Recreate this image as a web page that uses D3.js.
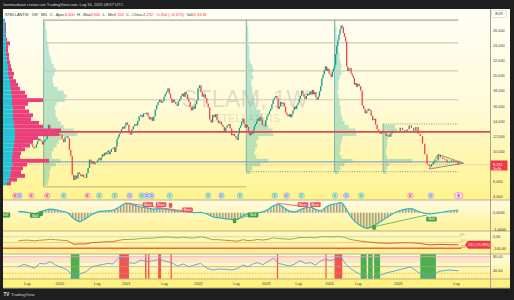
<!DOCTYPE html>
<html>
<head>
<meta charset="utf-8">
<script src="https://cdn.jsdelivr.net/npm/d3@7"></script>
<style>
  body { margin: 0; background: #1e1e1e; }
  svg { display: block; font-family: "Liberation Sans", Arial, sans-serif; }
</style>
</head>
<body>
<svg width="514" height="300"></svg>
<script>
// ---------- data ----------
const tickDates = ["2019-07-01","2020-01-06","2020-07-06","2021-01-04","2021-07-05","2022-01-03","2022-07-04","2023-01-02","2023-07-03","2024-01-01","2024-07-01","2025-01-06","2025-07-07"];
const tickLabels = ["Lug","2020","Lug","2021","Lug","2022","Lug","2023","Lug","2024","Lug","2025","Lug"];
const priceTicks = [4,6,8,10,12,14,16,18,20,22,24,26];

// weekly closes (EUR), first bar week of 2019-05-06
const firstWeek = "2019-05-06";
const firstOpen = 11.4;
const closes2019 = [11.0,10.6,10.4,11.3, 11.0,11.2,11.5,11.6, 11.8,11.5,11.3,11.6,10.9, 10.6,10.4,10.5,10.9, 11.3,11.7,11.5,11.3,10.9, 11.2,11.5,11.6,12.9, 13.5,13.0,12.8,12.7, 12.5,12.3,12.6,12.5,12.3];
const closes2020 = [12.1,12.2,11.6,11.2, 11.9,12.0,11.7,10.2, 9.4,6.9,6.2,6.8,6.4, 7.2,7.0,6.7,6.9, 6.6,6.5,7.1,7.8, 8.9,8.4,8.7,8.3,8.5, 8.6,8.9,9.1,8.8, 9.2,9.6,9.4,9.8,9.6, 9.9,10.1,9.6,9.9, 10.3,10.4,10.5,9.9, 10.6,11.6,11.9,12.3,12.4, 12.9,13.2,13.0,13.4];
const closes2021 = [13.8,13.5,12.4,12.2, 12.9,13.3,13.6,13.4, 14.0,14.6,14.8,14.5,15.0, 14.9,15.1,14.6,14.2, 14.5,14.0,14.6,15.5,16.1, 16.5,16.8,16.4,16.6, 17.2,17.6,17.9,18.3, 17.6,17.0,16.4,16.8,16.5, 16.2,16.0,16.6,16.9, 17.3,17.6,17.2,17.8, 17.5,16.9,16.5,15.8,15.4, 15.9,15.6,16.2,16.7];
const closes2022 = [18.3,18.7,17.8,17.2,17.5, 17.0,16.3,15.8,14.2, 13.8,14.8,14.5,14.9, 14.1,13.7,13.9,13.5, 13.2,12.6,13.1,13.4,13.6, 13.0,12.1,12.3,12.0, 11.7,11.5,12.3,13.1, 13.4,13.9,14.3,13.6,13.1, 13.5,13.2,12.4,12.1, 12.6,12.3,12.8,13.3,13.6, 14.0,14.3,14.0,14.5, 14.2,13.5,13.4,13.3];
const closes2023 = [14.1,14.6,14.9,15.3,15.6, 16.2,16.8,17.1,17.3, 17.0,15.6,15.9,16.5, 16.2,16.4,15.9,15.1, 14.8,14.6,14.9,14.5,14.9, 15.4,15.9,15.6,16.1, 16.4,16.9,17.3,18.0,17.6, 17.2,16.9,17.3,17.6, 17.4,17.9,17.5,18.1, 17.5,17.8,17.1,16.8,17.2, 17.9,18.6,19.6,20.1, 20.7,21.2,20.6,20.9];
const closes2024 = [20.3,20.1,19.8,20.5,20.9, 21.4,22.8,23.9,24.6, 25.4,26.1,26.6,26.4, 25.6,25.1,24.5,21.2,20.6, 20.9,21.0,20.3,20.0, 19.7,18.8,19.0,18.5, 18.9,18.6,18.0,16.0,15.6, 15.0,15.3,15.6,15.4, 14.7,14.1,14.3,13.5,12.9, 12.6,12.3,12.7,12.5, 12.4,12.0,12.1,11.9, 12.3,12.7,12.5,12.6,12.5];
const closes2025 = [12.7,13.1,12.8,12.6, 12.9,13.4,13.1,12.7, 13.2,12.3,12.0,11.0,9.6, 8.3,8.0,8.3,8.6, 8.8,9.5,9.2,9.0, 8.9,8.5,8.6,8.8,8.6, 8.586,8.232];

// volume profiles: bins of 0.5 EUR, centre prices 27.25 down to 5.75
const profileTop = 27.25, profileStep = 0.5;
const leftUpVol   = [2,2,2,2,2,3,3,3,3,3, 4,4,5,5,5,6,7,7,8,8, 9,9,9,10,10,10,10,11,11,12, 12,12,11,11,10,10,9,9,10,8, 8,7,6,4];
const leftDownVol = [0,1,1,1,1,1,4,2,2,3, 2,3,3,4,6,4,6,8,9,14, 15,31,16,12,16,20,18,25,29,46, 44,23,19,16,12,8,8,37,14,12, 10,15,8,4];
const profile1Vol = [1,2,2,3,3,3,4,5,5,6, 7,8,10,12,11,9,9,10,14,20, 23,21,13,11,12,12,14,17,20,30, 34,18,15,13,10,8,8,17,12,7, 6,6,5,4];
const profile2Vol = [1,1,2,2,2,2,2,3,3,3, 3,4,6,7,6,7,5,5,6,6, 7,8,9,10,14,16,18,20,22,26, 27,12,10,11,9,8,10,22,14,6, 4,0,0,0];
const profile3Vol = [1,1,2,2,2,3,3,4,4,5, 5,6,7,6,7,5,4,4,4,3, 4,5,5,6,6,7,8,10,14,21, 22,8,7,6,6,5,7,18,10,6, 4,0,0,0];
const profile4Vol = [0,0,0,0,0,0,0,0,0,0, 0,0,0,0,0,0,0,0,0,0, 0,0,0,0,0,0,0,0,12,14, 9,5,4,4,3,3,4,29,6,4, 3,0,0,0];
const profileStarts = ["2019-10-07","2022-09-05","2024-02-05","2024-10-28"];

// drawn levels
const grayLevels = [24.3, 20.6, 16.8];
const redLevel = 12.57, blueLevel = 8.6, lastClose = 8.232;
const boxTop = 27.3, box1Low = 5.3, boxLow = 7.3, box4Top = 13.6;
const triangle = [["2025-05-12",9.6],["2025-07-31",8.42],["2025-04-14",7.66]];

// monthly indicator readings, 2019-05 .. 2025-07
const firstMonth = "2019-05-15";
const macd = [0.08,0.05,0.0,-0.05,0.05,0.15,0.22,0.18,
  0.1,0.0,-0.35,-0.55,-0.35,-0.1,0.05,0.1,0.12,0.15,0.3,0.5,
  0.58,0.45,0.35,0.3,0.22,0.25,0.22,0.18,0.1,0.1,0.05,0.0,
  0.02,-0.08,-0.25,-0.32,-0.38,-0.42,-0.4,-0.2,-0.1,-0.05,0.0,0.05,
  0.2,0.42,0.5,0.3,0.1,0.05,0.18,0.3,0.33,0.2,0.12,0.35,
  0.5,0.55,0.62,0.3,-0.2,-0.55,-0.8,-0.95,-0.8,-0.55,-0.3,-0.05,
  0.15,0.25,0.05,-0.08,0.0,0.1,0.17];
const rsi = [50,57,52,45,60,58,65,55,
  48,40,18,28,35,50,54,57,60,58,75,80,
  62,60,70,65,68,72,66,62,52,58,50,55,
  60,45,40,43,42,40,45,55,50,58,62,56,
  65,76,60,56,52,58,68,60,62,55,68,72,
  68,74,81,58,45,35,26,22,20,24,32,36,
  42,49,30,19,36,40,38];
const drawdown = [-35,-30,-30,-36,-30,-28,-22,-26,
  -30,-34,-65,-62,-62,-50,-48,-45,-43,-42,-33,-25,
  -24,-22,-15,-14,-12,-6,-2,-5,-10,-4,-10,-12,
  0,-12,-25,-26,-31,-35,-38,-26,-33,-31,-24,-29,
  -22,-10,-16,-18,-23,-16,-6,-9,-6,-10,0,0,
  -3,0,0,-8,-24,-31,-38,-44,-50,-55,-56,-55,
  -53,-52,-58,-71,-66,-69,-70.38];

const macdMarks = [["2019-02-25",-0.14,"Bull"],["2019-08-19",-0.17,"Bull"],["2019-09-23",-0.05,""],
  ["2021-04-19",0.5,"Bear"],["2021-06-21",0.5,"Bear"],["2021-08-09",0.45,""],["2021-11-08",0.17,"Bear"],
  ["2022-06-27",-0.5,""],["2022-10-17",-0.14,"Bull"],["2023-08-01",0.5,"Bear"],["2023-10-13",0.5,"Bear"],
  ["2024-09-16",-0.9,""],["2025-04-21",-0.39,"Bull"]];
const bearLines = [[["2020-12-28",0.6],["2021-11-19",0.06]], [["2023-03-06",0.58],["2023-08-14",0.37]]];
const bullLines = [[["2022-06-20",-0.45],["2022-10-10",-0.14]], [["2024-08-12",-0.96],["2025-04-07",-0.14]]];

const rsiHot = [["2020-11-23","2021-01-18"],["2021-04-05","2021-04-12"],["2021-04-19","2021-04-26"],["2021-06-07","2021-06-21"],
  ["2021-08-09","2021-08-16"],["2023-03-06","2023-03-13"],["2023-12-11","2023-12-18"],["2024-02-05","2024-03-25"]];
const rsiCold = [["2020-03-02","2020-04-13"],["2024-07-15","2024-08-12"],["2024-08-19","2024-09-09"],["2024-09-16","2024-10-14"],["2025-03-17","2025-05-05"]];

const events = [["2019-04-26","E","neg"],["2019-05-20","D","div"],["2019-07-29","E","neg"],["2019-10-28","E","neg"],
  ["2020-01-27","E","pos"],["2020-05-22","E","neg"],["2020-07-22","E","pos"],["2020-10-26","E","pos"],
  ["2021-01-22","D","div"],["2021-03-20","E","pos"],["2021-04-12","D","div"],["2021-05-06","D","div"],
  ["2021-08-05","E","pos"],["2022-02-21","E","pos"],["2022-04-25","D","div"],["2022-07-28","E","pos"],
  ["2023-02-22","E","pos"],["2023-04-30","D","div"],["2023-07-24","E","pos"],["2024-02-08","E","pos"],
  ["2024-04-20","D","div"],["2024-07-18","E","pos"],["2025-02-14","E","neg"],["2025-04-19","D","div"]];
const nextEvent = "2025-07-14";

// ---------- setup ----------
const parse = d3.timeParse("%Y-%m-%d");
const it = d3.formatLocale({decimal: ",", thousands: ".", grouping: [3], currency: ["", "€"], minus: "-"});
const svg = d3.select("svg");
const defs = svg.append("defs");

const x = d3.scaleTime().domain(tickDates.map(parse))
  .range([26.7, 59.3, 96.7, 126, 164, 198, 236, 265.7, 298, 329, 357.7, 398, 456]);
const y = d3.scaleLinear().domain([3.57, 27.32]).range([200, 20]);
const yMacd = d3.scaleLinear().domain([-1, 0]).range([229, 212.7]);
const yDD = d3.scaleLinear().domain([-100, 0]).range([248.3, 236.7]);
const yRsi = d3.scaleLinear().domain([40, 80]).range([270, 256.7]);
const vol = d3.scaleLinear().domain([0, 100]).range([0, 100]);

const closes = [].concat(closes2019, closes2020, closes2021, closes2022, closes2023, closes2024, closes2025);
const start = parse(firstWeek);
const bars = closes.map((c, i) => ({date: d3.timeWeek.offset(start, i), open: i ? closes[i-1] : firstOpen, close: c}));
const lastDate = bars[bars.length-1].date;
const m0 = parse(firstMonth);
const monthly = arr => arr.map((v, i) => ({date: d3.timeMonth.offset(m0, i), v}));

function vgrad(id, stops) {
  const g = defs.append("linearGradient").attr("id", id).attr("x1",0).attr("y1",0).attr("x2",0).attr("y2",1);
  stops.forEach(s => g.append("stop").attr("offset", s[0]).attr("stop-color", s[1]));
}
vgrad("gMain", [["0%","#fffef6"],["50%","#fffbd9"],["100%","#fff38e"]]);
vgrad("gMacd", [["0%","#fffbe2"],["100%","#fff293"]]);
vgrad("gDD",   [["0%","#fff8c4"],["100%","#fff293"]]);
vgrad("gRsi",  [["0%","#fffbe4"],["100%","#fff28f"]]);
const ddg = defs.append("linearGradient").attr("id","ddLine").attr("gradientUnits","userSpaceOnUse")
  .attr("x1",0).attr("x2",0).attr("y1",yDD(0)).attr("y2",yDD(-75));
[["0","#5cb85c"],["0.2","#7fb24a"],["0.4","#b8823e"],["1","#c0392b"]].forEach(s => ddg.append("stop").attr("offset",s[0]).attr("stop-color",s[1]));
const pat = defs.append("pattern").attr("id","hatch").attr("patternUnits","userSpaceOnUse").attr("width",1.5).attr("height",4);
pat.append("rect").attr("width",0.8).attr("height",4).attr("fill","#9e9677");
function clip(id, x0, y0, x1, y1) {
  defs.append("clipPath").attr("id", id).append("rect").attr("x", x0).attr("y", y0).attr("width", x1-x0).attr("height", y1-y0);
}
clip("cMain", 3, 9, 490, 200); clip("cMacd", 3, 200, 490, 231); clip("cDD", 3, 231, 490, 254); clip("cRsi", 3, 254, 490, 279);

// ---------- backgrounds ----------
svg.append("rect").attr("x",3).attr("y",9).attr("width",507).attr("height",191).attr("fill","url(#gMain)");
svg.append("rect").attr("x",3).attr("y",200).attr("width",507).attr("height",31).attr("fill","url(#gMacd)");
svg.append("rect").attr("x",3).attr("y",231).attr("width",507).attr("height",23).attr("fill","url(#gDD)");
svg.append("rect").attr("x",3).attr("y",254).attr("width",507).attr("height",25).attr("fill","url(#gRsi)");
svg.append("rect").attr("x",3).attr("y",279).attr("width",507).attr("height",9).attr("fill","#fff27c");

// ---------- main pane ----------
const main = svg.append("g").attr("clip-path","url(#cMain)");
const binY = p => y(p + profileStep/2);
const binH = y(0) - y(profileStep);
const bins = leftUpVol.map((_, i) => profileTop - i*profileStep);

// watermark
main.append("text").attr("x",245).attr("y",107).attr("text-anchor","middle").attr("font-size",23.5)
  .attr("fill","rgba(110,110,110,0.22)").text("STLAM, 1W");
main.append("text").attr("x",247).attr("y",122).attr("text-anchor","middle").attr("font-size",11)
  .attr("fill","rgba(110,110,110,0.2)").text("STELLANTIS");

// fixed range profiles
[profile1Vol, profile2Vol, profile3Vol, profile4Vol].forEach((vols, k) => {
  const x0 = x(parse(profileStarts[k]));
  main.append("g").selectAll("rect").data(bins.map((p, i) => ({p, v: vols[i]})).filter(d => d.v > 0)).join("rect")
    .attr("x", x0).attr("y", d => binY(d.p)).attr("width", d => vol(d.v)).attr("height", binH)
    .attr("fill", "#3dbba8").attr("opacity", 0.36);
});
// box outlines
const xEnd = x(lastDate);
main.append("line").attr("x1", x(parse(profileStarts[0]))).attr("x2", xEnd).attr("y1", y(boxTop)).attr("y2", y(boxTop)).attr("stroke","#a9a9a0").attr("stroke-width",1.3);
main.append("line").attr("x1", x(parse(profileStarts[0]))).attr("x2", x(parse(profileStarts[1]))).attr("y1", y(box1Low)).attr("y2", y(box1Low)).attr("stroke","#b5ad86").attr("stroke-width",0.9);
main.append("line").attr("x1", x(parse(profileStarts[1]))).attr("x2", xEnd).attr("y1", y(boxLow)).attr("y2", y(boxLow)).attr("stroke","#8c8c80").attr("stroke-width",0.8).attr("stroke-dasharray","1.2,1.2");
main.append("line").attr("x1", x(parse(profileStarts[3]))).attr("x2", xEnd).attr("y1", y(box4Top)).attr("y2", y(box4Top)).attr("stroke","#8c8c80").attr("stroke-width",0.8).attr("stroke-dasharray","1.2,1.2");
profileStarts.forEach((d, k) => {
  main.append("line").attr("x1", x(parse(d))).attr("x2", x(parse(d)))
    .attr("y1", y(k === 3 ? box4Top : boxTop)).attr("y2", y(k === 0 ? box1Low : boxLow))
    .attr("stroke", "#6aa8a0").attr("stroke-width", 0.8);
});

// horizontal levels
main.selectAll(".lvl").data(grayLevels).join("line").attr("class","lvl")
  .attr("x1", x(parse(profileStarts[0]))).attr("x2", xEnd).attr("y1", d => y(d)).attr("y2", d => y(d))
  .attr("stroke","#cfc9ad").attr("stroke-width",1.2);
main.append("line").attr("x1",3).attr("x2",xEnd+3).attr("y1",y(blueLevel)).attr("y2",y(blueLevel)).attr("stroke","#86a9c4").attr("stroke-width",1.2);
main.append("line").attr("x1",3).attr("x2",490).attr("y1",y(lastClose)).attr("y2",y(lastClose)).attr("stroke","#f23645").attr("stroke-opacity",0.55).attr("stroke-width",0.6).attr("stroke-dasharray","1,1");

// candles
main.append("g").selectAll("rect").data(bars).join("rect")
  .attr("x", d => x(d.date) - 0.65).attr("width", 1.3)
  .attr("y", d => y(Math.max(d.open, d.close)))
  .attr("height", d => Math.max(0.7, Math.abs(y(d.open) - y(d.close))))
  .attr("fill", d => d.close >= d.open ? "#0f9d86" : "#ee4250");

// red level
main.append("line").attr("x1",3).attr("x2",490).attr("y1",y(redLevel)).attr("y2",y(redLevel)).attr("stroke","#e0475a").attr("stroke-width",1.8);

// triangle
main.append("path").attr("d", d3.line().x(d => x(parse(d[0]))).y(d => y(d[1]))(triangle) + "Z")
  .attr("fill","rgba(120,120,100,0.08)").attr("stroke","#555").attr("stroke-width",0.6);

// left visible-range profile
const lp = main.append("g");
lp.selectAll(".up").data(bins.map((p, i) => ({p, v: leftUpVol[i]}))).join("rect").attr("class","up")
  .attr("x",3).attr("y", d => binY(d.p)).attr("width", d => vol(d.v)).attr("height", binH).attr("fill","#22c3d6");
lp.selectAll(".dn").data(bins.map((p, i) => ({p, u: leftUpVol[i], v: leftDownVol[i]}))).join("rect").attr("class","dn")
  .attr("x", d => 3 + vol(d.u)).attr("y", d => binY(d.p)).attr("width", d => vol(d.v)).attr("height", binH).attr("fill","#ea3f7b");

// events
const evColor = {pos: ["#dff5ef","#43b3a0","#26a69a"], neg: ["#fde4ea","#ee6b8b","#e91e63"], div: ["#e3e8ff","#7b8cf0","#5c6bc0"]};
const ev = svg.append("g");
events.forEach(e => {
  const cx = x(parse(e[0])), c = evColor[e[2]];
  ev.append("circle").attr("cx", cx).attr("cy", 195.6).attr("r", 2.7).attr("fill", c[0]).attr("stroke", c[1]).attr("stroke-width", 0.6);
  ev.append("text").attr("x", cx).attr("y", 196.9).attr("text-anchor","middle").attr("font-size",3.6).attr("font-weight","bold").attr("fill", c[2]).text(e[1]);
});
ev.append("rect").attr("x", x(parse(nextEvent)) - 3.5).attr("y", 192.8).attr("width", 8).attr("height", 5.6).attr("rx", 2.2)
  .attr("fill","#fbe3f5").attr("stroke","#d76ad0").attr("stroke-width",0.6);
ev.append("text").attr("x", x(parse(nextEvent)) + 0.5).attr("y", 197).attr("text-anchor","middle").attr("font-size",3.6).attr("font-weight","bold").attr("fill","#c2185b").text("E");

// ---------- MACD pane ----------
const mg = svg.append("g").attr("clip-path","url(#cMacd)");
const md = monthly(macd);
mg.append("path").datum(md).attr("fill","url(#hatch)")
  .attr("d", d3.area().curve(d3.curveMonotoneX).x(d => x(d.date)).y0(yMacd(0)).y1(d => yMacd(d.v)));
mg.append("path").datum(md).attr("fill","none").attr("stroke","#1fb6cf").attr("stroke-width",1.1)
  .attr("d", d3.line().curve(d3.curveMonotoneX).x(d => x(d.date)).y(d => yMacd(d.v)));
const segLine = d3.line().x(d => x(parse(d[0]))).y(d => yMacd(d[1]));
bearLines.forEach(l => mg.append("path").attr("d", segLine(l)).attr("stroke","#f0505a").attr("stroke-width",0.8).attr("fill","none"));
bullLines.forEach(l => mg.append("path").attr("d", segLine(l)).attr("stroke","#4caf50").attr("stroke-width",0.8).attr("fill","none"));
macdMarks.forEach(m => {
  const cx = x(parse(m[0])), cy = yMacd(m[1]), w = m[2] ? 10.5 : 3.5;
  const col = m[2] === "Bear" || (m[2] === "" && m[1] > 0) ? "#f0505a" : "#43a047";
  mg.append("rect").attr("x", cx - w/2).attr("y", cy - 2.4).attr("width", w).attr("height", 4.8).attr("rx", 0.8).attr("fill", col);
  if (m[2]) mg.append("text").attr("x", cx).attr("y", cy + 1.3).attr("text-anchor","middle").attr("font-size",3.6).attr("fill","#fff").text(m[2]);
});

// ---------- drawdown pane ----------
const dg = svg.append("g").attr("clip-path","url(#cDD)");
[[0,"#b9dfa8",0.8],[-50,"#ffbf7a",0.8],[-100,"#f2603c",1.6]].forEach(l =>
  dg.append("line").attr("x1",3).attr("x2",xEnd+3).attr("y1",yDD(l[0])).attr("y2",yDD(l[0])).attr("stroke",l[1]).attr("stroke-width",l[2]));
dg.append("path").datum(monthly(drawdown)).attr("fill","none").attr("stroke","url(#ddLine)").attr("stroke-width",0.9)
  .attr("d", d3.line().x(d => x(d.date)).y(d => yDD(d.v)));
[["0%",0,"#6fbf5a"],["-50%",-50,"#f59a3c"],["-100%",-100,"#e53935"]].forEach(l =>
  svg.append("text").attr("x", xEnd + 1.5).attr("y", yDD(l[1]) - 0.8).attr("font-size",3.1).attr("fill",l[2]).text(l[0]));

// ---------- RSI pane ----------
const rg = svg.append("g").attr("clip-path","url(#cRsi)");
rg.append("rect").attr("x",3).attr("width",487).attr("y",yRsi(80)).attr("height",yRsi(62)-yRsi(80)).attr("fill","#f8c9c4").attr("opacity",0.45);
const band = (list, col) => rg.append("g").selectAll("rect").data(list).join("rect")
  .attr("x", d => x(parse(d[0]))).attr("width", d => Math.max(1, x(parse(d[1])) - x(parse(d[0]))))
  .attr("y",254).attr("height",25).attr("fill",col);
band(rsiHot, "#f5544e"); band(rsiCold, "#4caf50");
rg.append("line").attr("x1",3).attr("x2",490).attr("y1",yRsi(80)).attr("y2",yRsi(80)).attr("stroke","#f3a5b0").attr("stroke-width",0.8);
rg.append("line").attr("x1",3).attr("x2",490).attr("y1",yRsi(50)).attr("y2",yRsi(50)).attr("stroke","#aaa592").attr("stroke-width",0.7);
rg.append("line").attr("x1",3).attr("x2",490).attr("y1",yRsi(30)).attr("y2",yRsi(30)).attr("stroke","#c4b150").attr("stroke-width",0.7).attr("stroke-dasharray","1.5,1.5");
rg.append("path").datum(monthly(rsi)).attr("fill","none").attr("stroke","#5a9fe0").attr("stroke-width",0.9)
  .attr("d", d3.line().x(d => x(d.date)).y(d => yRsi(d.v)));

// ---------- separators ----------
[200, 231, 254, 279, 288].forEach(v => svg.append("line").attr("x1",3).attr("x2",510).attr("y1",v).attr("y2",v).attr("stroke","#b9b28c").attr("stroke-width",1.2));
svg.append("line").attr("x1",490.5).attr("x2",490.5).attr("y1",9).attr("y2",288).attr("stroke","#a8a287").attr("stroke-width",1);

// ---------- axes ----------
const styleAxis = g => { g.select(".domain").remove(); g.selectAll("line").remove();
  g.selectAll("text").attr("font-size",3.8).attr("fill","#3d3d3d").attr("font-family","Liberation Sans, Arial, sans-serif"); };
// the last-price label covers the nearby tick
const shownTicks = priceTicks.filter(t => Math.abs(y(t) - y(lastClose)) > 6);
svg.append("g").attr("transform","translate(490,0)")
  .call(d3.axisRight(y).tickValues(shownTicks).tickFormat(it.format(",.3f")).tickSize(0).tickPadding(3)).call(styleAxis);
svg.append("g").attr("transform","translate(490,0)")
  .call(d3.axisRight(yMacd).tickValues([0,-1]).tickFormat(it.format(".4f")).tickSize(0).tickPadding(3)).call(styleAxis);
svg.append("g").attr("transform","translate(490,0)")
  .call(d3.axisRight(yDD).tickValues([0,-100]).tickFormat(it.format(".2f")).tickSize(0).tickPadding(3)).call(styleAxis);
svg.append("g").attr("transform","translate(490,0)")
  .call(d3.axisRight(yRsi).tickValues([80,40]).tickFormat(it.format(".2f")).tickSize(0).tickPadding(3)).call(styleAxis);
svg.append("g").attr("transform","translate(0,280)")
  .call(d3.axisBottom(x).tickValues(tickDates.map(parse)).tickFormat((d, i) => tickLabels[i]).tickSize(0).tickPadding(2.5)).call(styleAxis);

// last price label
svg.append("rect").attr("x",490.5).attr("y",y(lastClose)-4.2).attr("width",17).attr("height",10).attr("fill","#f23645");
svg.append("text").attr("x",493).attr("y",y(lastClose)+1.2).attr("font-size",3.8).attr("fill","#fff").text(it.format(".3f")(lastClose));
svg.append("text").attr("x",493).attr("y",y(lastClose)+5.2).attr("font-size",3.4).attr("fill","#fff").text("2g 6h");
// drawdown label
svg.append("path").attr("d",`M465,${yDD(-70.38)} l3,-4 h22.5 v8 h-22.5 z`).attr("fill","#f23645");
svg.append("text").attr("x",468.5).attr("y",yDD(-70.38)+1.3).attr("font-size",3.5).attr("fill","#fff").text("DD (" + it.format(".2f")(-70.38) + "%)");
// EUR box
svg.append("rect").attr("x",491.5).attr("y",10.5).attr("width",15).attr("height",7).attr("rx",1).attr("fill","#fffef7").attr("stroke","#cfcab0").attr("stroke-width",0.5);
svg.append("text").attr("x",499).attr("y",15.3).attr("text-anchor","middle").attr("font-size",3.6).attr("fill","#444").text("EUR");

// ---------- header / legend / footer ----------
svg.append("text").attr("x",3.5).attr("y",6.4).attr("font-size",4).attr("fill","#d8d8d8")
  .text("lionmardazzi creato con TradingView.com, Lug 16, 2025 08:57 UTC");
const lg = svg.append("text").attr("x",5).attr("y",15.6).attr("font-size",3.9).attr("fill","#333");
[["STELLANTIS · 1W · MIL  ","#333"],["O - Aper.","#333"],["8,400  ","#f23645"],["H - Max","#333"],["8,665  ","#f23645"],
 ["L - Min","#333"],["8,102  ","#f23645"],["C - Chius.","#333"],["8,232  ","#f23645"],["−0,354 (−4,12%)  ","#f23645"],
 ["Vol","#333"],["41,94 M","#f23645"]].forEach(s => lg.append("tspan").attr("fill", s[1]).attr("xml:space","preserve").text(s[0]));
svg.append("text").attr("x",3.5).attr("y",295.8).attr("font-size",4.6).attr("font-weight","bold").attr("fill","#e0e0e0").text("TV");
svg.append("text").attr("x",11).attr("y",295.8).attr("font-size",4.3).attr("fill","#d0d0d0").text("TradingView");
</script>
</body>
</html>
